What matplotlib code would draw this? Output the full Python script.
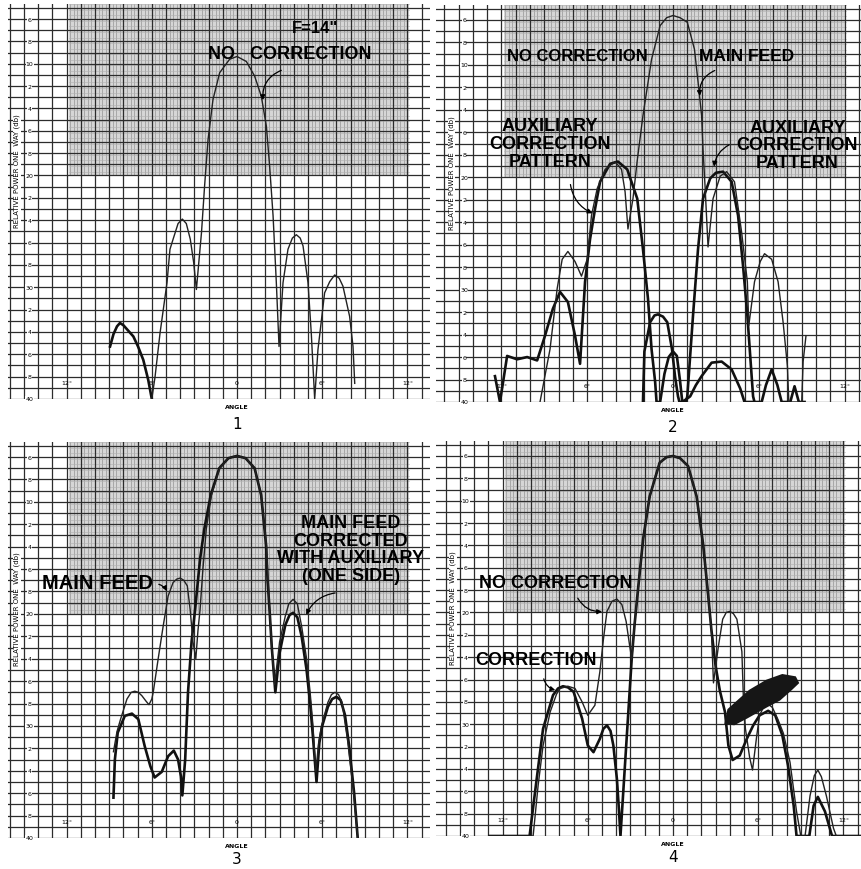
import numpy as np
import matplotlib
matplotlib.use("Agg")
import matplotlib.pyplot as plt

# ---- panel 1 : F = 14", no correction ----
p1_far_ang = [-8.94, -8.7, -8.45, -8.24, -8.0, -7.65, -7.3, -6.97, -6.6, -6.25, -6.0]
p1_far_db = [35.3, 34.2, 33.5, 33.2, 33.4, 33.9, 34.4, 35.3, 36.5, 38.3, 40.0]
p1_ang = [-6.0, -5.77, -5.42, -4.93, -4.72, -4.5, -4.15, -3.85, -3.57, -3.29, -3.05, -2.86,
          -2.5, -2.28, -2.04, -1.69, -1.22, -0.52, 0.0, 0.66, 1.24, 1.71, 2.07, 2.3, 2.54, 2.77, 2.96,
          3.24, 3.59, 3.9, 4.18, 4.45, 4.65, 5.0, 5.23, 5.47,
          5.7, 6.17, 6.53, 6.88, 7.2, 7.46, 7.93, 8.17, 8.29]
p1_db = [40.0, 38.0, 34.1, 29.6, 26.6, 25.7, 24.3, 23.9, 24.3, 25.7, 27.8, 30.2,
         25.1, 20.9, 16.8, 13.2, 10.8, 9.6, 9.35, 9.8, 11.1, 12.9, 15.6, 19.2, 23.6, 29.6, 35.3,
         29.6, 26.6, 25.6, 25.3, 25.6, 26.3, 29.6, 34.1, 40.0,
         35.6, 30.5, 29.5, 28.9, 29.2, 29.9, 32.6, 35.3, 38.6]

# ---- panel 2 : main feed and the two auxiliary correction patterns ----
p2_main_ang = [-9.3, -8.6, -8.1, -7.75, -7.35, -6.85, -6.4, -6.0, -5.7, -5.3, -4.75, -4.05, -3.6,
               -3.35, -3.15, -2.8, -2.5, -2.1, -1.8, -1.5, -0.9, -0.45, 0.0, 0.5, 1.0, 1.5, 1.75,
               2.0, 2.1, 2.25, 2.45, 2.8, 3.3, 3.75, 4.3, 4.8, 5.2, 5.3, 5.7, 6.1, 6.4, 6.9, 7.35,
               7.7, 8.0, 8.1, 9.0, 9.1, 9.3]
p2_main_db = [40.0, 35.3, 29.9, 27.3, 26.6, 27.5, 28.8, 27.3, 23.4, 21.0, 19.3, 18.6, 19.3,
              21.3, 24.6, 21.9, 18.5, 14.5, 12.0, 9.5, 6.5, 5.8, 5.6, 5.8, 6.2, 8.6, 11.5,
              14.5, 17.5, 21.0, 26.2, 21.9, 19.9, 19.5, 20.4, 24.9, 29.3, 33.2, 29.3, 27.5, 26.8, 27.3, 29.3,
              32.9, 36.8, 40.0, 40.0, 36.4, 34.1]
p2_auxl_ang = [-12.45, -12.1, -11.6, -10.9, -10.2, -9.5, -8.95, -8.4, -7.9, -7.35, -6.85, -6.5,
               -6.15, -5.8, -5.45, -5.1, -4.4, -3.85, -3.2, -2.5, -2.1, -1.75, -1.5, -1.25, -1.15,
               -0.9, -0.6, -0.3, 0.0, 0.27, 0.5, 0.65, 1.2, 1.6, 2.0, 2.7, 3.4, 4.1, 4.7, 5.0, 5.6]
p2_auxl_db = [37.7, 40.0, 35.9, 36.2, 36.0, 36.3, 34.1, 31.7, 30.2, 31.1, 34.1, 36.6,
              29.3, 25.5, 22.8, 20.4, 18.8, 18.6, 19.3, 21.9, 26.4, 30.8, 35.3, 38.2, 40.0,
              40.0, 37.5, 36.0, 35.5, 35.9, 38.2, 40.0, 39.5, 38.5, 37.7, 36.5, 36.4, 37.1, 38.8, 40.0, 40.0]
p2_auxr_ang = [-2.1, -2.0, -1.6, -1.3, -1.05, -0.7, -0.4, -0.07, 0.14, 0.35, 0.45, 0.9, 1.0, 1.4,
               1.75, 2.1, 2.6, 3.0, 3.5, 4.1, 4.55, 4.9, 5.2, 5.4, 5.6, 5.7, 6.2, 6.5, 6.9, 7.3,
               7.6, 8.2, 8.5, 8.8, 9.2]
p2_auxr_db = [40.0, 35.5, 32.9, 32.3, 32.2, 32.4, 32.9, 35.3, 37.7, 39.5, 40.0, 40.0, 39.5, 32.3,
              26.4, 21.9, 20.1, 19.6, 19.5, 20.4, 23.4, 27.9, 32.3, 35.9, 39.5, 40.0, 40.0, 38.5, 37.1, 38.5,
              40.0, 40.0, 38.6, 40.0, 40.0]

# ---- panel 3 : main feed / corrected with auxiliary (one side) ----
p3_main_ang = [-8.7, -8.45, -8.2, -7.75, -7.45, -7.2, -6.95, -6.7, -6.4, -6.2, -6.0, -5.9, -5.55,
               -5.2, -4.85, -4.5, -4.25, -4.0, -3.75, -3.5, -3.3, -3.1, -2.9, -2.75, -2.6, -2.4,
               -2.16, -1.8, -1.22, -0.6, 0.0, 0.6, 1.24, 1.7, 2.07, 2.18, 2.3, 2.45, 2.65, 3.0, 3.4,
               3.65, 3.95, 4.25, 4.55, 4.9, 5.15, 5.35, 5.55, 5.75, 5.95, 6.4, 6.65, 6.9, 7.15, 7.4,
               7.8, 8.2, 8.5]
p3_main_db = [32.3, 30.5, 29.4, 27.6, 27.0, 26.9, 27.0, 27.3, 27.8, 28.1, 27.6, 27.0, 24.0,
              21.1, 18.4, 17.2, 16.9, 16.8, 17.0, 17.5, 19.6, 22.5, 24.0, 21.5, 19.6, 16.0,
              12.4, 9.4, 7.0, 6.1, 5.9, 6.1, 7.0, 9.4, 13.9, 16.9, 19.8, 23.0, 26.3, 22.5, 20.2,
              19.1, 18.7, 19.1, 21.1, 24.0, 27.0, 30.0, 34.1, 31.5, 30.0, 27.9, 27.2, 27.0, 27.2, 27.9,
              31.4, 35.9, 40.0]
p3_corr_ang = [-8.7, -8.6, -8.4, -7.9, -7.4, -6.95, -6.5, -6.1, -5.8, -5.3, -4.85, -4.45, -4.15,
               -3.95, -3.85, -3.65, -3.45, -3.2, -2.95, -2.6, -2.3, -1.85, -1.25, -0.6, 0.0, 0.6,
               1.24, 1.7, 2.05, 2.15, 2.3, 2.45, 2.7, 3.0, 3.4, 3.7, 3.95, 4.25, 4.55, 4.9, 5.15,
               5.35, 5.6, 5.8, 6.0, 6.4, 6.7, 7.0, 7.3, 7.6, 7.9, 8.25, 8.5]
p3_corr_db = [36.4, 33.0, 30.6, 29.1, 28.9, 29.4, 31.8, 33.6, 34.6, 34.1, 32.7, 32.2, 33.0,
              34.5, 36.2, 33.0, 27.0, 22.5, 19.6, 15.1, 12.4, 9.4, 7.0, 6.1, 5.9, 6.1,
              7.0, 9.4, 13.9, 16.9, 19.8, 23.0, 27.0, 23.5, 21.0, 20.1, 19.9, 20.3, 22.0, 25.0, 28.0,
              31.0, 35.0, 31.5, 30.0, 28.3, 27.6, 27.4, 27.7, 29.0, 31.8, 36.0, 40.0]

# ---- panel 4 : no correction / correction ----
p4_nocorr_ang = [-12.9, -9.85, -9.5, -9.15, -8.65, -8.2, -7.95, -7.4, -6.9, -6.4, -6.0, -5.5,
                 -5.15, -4.9, -4.65, -4.3, -3.95, -3.6, -3.3, -3.05, -2.9, -2.75, -2.46, -2.1,
                 -1.64, -0.94, -0.45, 0.0, 0.5, 1.06, 1.66, 2.13, 2.48, 2.7, 2.85, 3.2, 3.5, 3.75,
                 4.0, 4.25, 4.5, 4.85, 4.95, 5.1, 5.4, 5.6, 5.9, 6.1, 6.4, 6.7, 7.0, 7.4, 7.77, 8.24,
                 8.7, 9.0, 9.3, 9.65, 9.95, 10.2, 10.45, 10.8, 11.3, 11.5, 13.2]
p4_nocorr_db = [40.0, 40.0, 35.5, 31.9, 28.9, 27.3, 26.8, 26.6, 26.8, 28.0, 29.2, 28.3,
                25.3, 22.4, 19.9, 19.0, 18.8, 19.3, 20.8, 23.0, 24.2, 21.5, 17.9, 13.4,
                9.6, 6.6, 6.1, 6.0, 6.2, 6.9, 9.6, 14.0, 18.5, 21.5, 26.3, 23.0, 20.6, 20.0,
                19.9, 20.1, 20.6, 23.5, 27.4, 30.4, 33.0, 34.1, 31.0, 29.2, 28.4, 28.2, 28.5, 29.6, 30.8, 33.4,
                37.8, 40.0, 40.0, 36.4, 34.6, 34.1, 34.7, 36.4, 39.3, 40.0, 40.0]
p4_corr_ang = [-12.9, -10.1, -9.6, -9.15, -8.45, -8.1, -7.75, -7.4, -7.0, -6.4, -6.0, -5.6, -5.15,
               -4.9, -4.65, -4.4, -4.2, -3.95, -3.8, -3.7, -3.5, -3.2, -2.9, -2.7, -2.46, -2.1,
               -1.64, -0.94, -0.45, 0.0, 0.5, 1.06, 1.66, 2.13, 2.48, 2.7, 3.0, 3.3, 3.66, 3.9, 4.2,
               4.7, 5.2, 5.65, 6.1, 6.7, 7.2, 7.7, 8.1, 8.5, 8.7, 9.6, 9.9, 10.2, 10.7, 11.2, 13.2]
p4_corr_db = [40.0, 40.0, 34.9, 30.4, 27.4, 26.8, 26.6, 26.7, 27.1, 29.5, 31.9, 32.5, 31.3,
              30.4, 30.1, 30.6, 31.9, 34.9, 37.8, 40.0, 36.0, 30.0, 24.0, 21.0, 17.9, 13.4,
              9.6, 6.6, 6.1, 6.0, 6.2, 6.9, 9.6, 14.0, 18.5, 21.5, 24.8, 27.0, 28.9, 31.9, 33.2,
              32.8, 31.3, 30.1, 29.2, 28.8, 29.2, 31.0, 33.7, 37.3, 40.0, 40.0, 37.3, 36.5, 37.8, 40.0, 40.0]
blob_ang = [3.7, 3.9, 4.6, 5.4, 6.6, 7.7, 8.6, 8.8, 8.3, 7.5, 6.6, 5.2, 4.3]
blob_db = [29.9, 28.7, 27.9, 27.0, 26.1, 25.6, 25.8, 26.3, 26.9, 27.8, 28.4, 29.4, 30.0]

y_ticks = list(range(6, 41, 2))
y_labels = [str(v) if v % 10 == 0 else str(v % 10) for v in y_ticks]
x_ticks = [-12, -6, 0, 6, 12]
x_labels = ["12°", "6°", "0", "6°", "12°"]

W, H = 861, 870
fig = plt.figure(figsize=(W / 100, H / 100), dpi=100)
fig.patch.set_facecolor("white")

LBL = ["Liberation Sans Narrow", "Liberation Sans", "DejaVu Sans"]
thin = dict(color="#222222", lw=1.0, zorder=4)
thick = dict(color="#111111", lw=1.9, zorder=4)


def chart_paper(x0, x1, y0, y1, zero_px, px_deg, six_px, px_db, number, num_y=42.2):
    # axes placed by pixel box, data range from the paper scale
    ax = fig.add_axes([x0 / W, 1 - y1 / H, (x1 - x0) / W, (y1 - y0) / H])
    xl = ((x0 - zero_px) / px_deg, (x1 - zero_px) / px_deg)
    top = 6 + (y0 - six_px) / px_db
    ax.set_xlim(xl)
    ax.set_ylim(40, top)
    ax.axis("off")
    # fine ruled band at the top
    ax.fill_between([-11.8, 12.1], top, 20, color="#d6d6d6", lw=0, zorder=0)
    for v in np.arange(-11.75, 12.1, 0.25):
        ax.plot([v, v], [top, 20], color="#8e8e8e", lw=0.45, zorder=0.5)
    for v in np.arange(top, 20, 0.5):
        ax.plot([-11.8, 12.1], [v, v], color="#b0b0b0", lw=0.4, zorder=0.6)
    for v in range(int(np.ceil(xl[0])), int(np.floor(xl[1])) + 1):
        ax.axvline(v, color="#2c2c2c", lw=0.9, zorder=1)
    for v in range(5, 41):
        ax.axhline(v, color="#2c2c2c", lw=0.9, zorder=1)
    for v, s in zip(y_ticks, y_labels):
        ax.text(-14.6, v, s, fontsize=4.5, ha="center", va="center", zorder=3,
                bbox=dict(facecolor="white", edgecolor="none", pad=0.2))
    for v, s in zip(x_ticks, x_labels):
        ax.text(v, 38.5, s, fontsize=4.5, ha="center", va="center", zorder=3)
    ax.text(-15.5, 19.5, "RELATIVE POWER ONE  WAY (db)", rotation=90, fontsize=5,
            ha="center", va="center", zorder=3,
            bbox=dict(facecolor="white", edgecolor="none", pad=0.3))
    ax.text(0, 40.7, "ANGLE", fontsize=4.5, fontweight="bold", ha="center", va="center",
            clip_on=False)
    ax.text(0, num_y, number, fontsize=11, ha="center", va="center", clip_on=False)
    return ax


def label(ax, x, y, s, size=13):
    ax.text(x, y, s, fontsize=size, fontweight="bold", family=LBL, ha="center",
            va="center", linespacing=1.05, zorder=6)


def pointer(ax, start, end, rad=0.4):
    ax.annotate("", xy=end, xytext=start, zorder=6,
                arrowprops=dict(arrowstyle="-|>", lw=0.9, color="k", mutation_scale=7,
                                connectionstyle="arc3,rad=%s" % rad))


# 1
ax1 = chart_paper(8, 430, 5, 400, 237, 14.2, 20, 11.15, "1")
ax1.plot(p1_far_ang, p1_far_db, **thick)
ax1.plot(p1_ang, p1_db, **thin)
label(ax1, 5.5, 6.8, 'F=14"', 12)
label(ax1, 3.7, 9.1, "NO   CORRECTION")
pointer(ax1, (3.3, 10.5), (1.85, 13.5))

# 2
ax2 = chart_paper(436, 861, 6, 403, 673, 14.3, 21, 11.24, "2")
ax2.plot(p2_auxl_ang, p2_auxl_db, **thick)
ax2.plot(p2_auxr_ang, p2_auxr_db, **thick)
ax2.plot(p2_main_ang, p2_main_db, **thin)
label(ax2, -6.7, 9.2, "NO CORRECTION", 12)
label(ax2, 5.15, 9.2, "MAIN FEED", 12.5)
pointer(ax2, (3.1, 10.4), (1.9, 13.0))
label(ax2, -8.6, 17.0, "AUXILIARY\nCORRECTION\nPATTERN")
pointer(ax2, (-7.2, 20.4), (-5.45, 23.3), 0.3)
label(ax2, 8.7, 17.1, "AUXILIARY\nCORRECTION\nPATTERN")
pointer(ax2, (4.1, 17.0), (2.85, 19.3), 0.3)

# 3
ax3 = chart_paper(8, 430, 443, 839, 237, 14.2, 458, 11.2, "3", 41.85)
ax3.plot(p3_corr_ang, p3_corr_db, **thick)
ax3.plot(p3_main_ang, p3_main_db, **thin)
label(ax3, -9.8, 17.2, "MAIN FEED", 14.5)
pointer(ax3, (-5.7, 17.3), (-4.86, 18.2), -0.3)
label(ax3, 8.0, 14.2, "MAIN FEED\nCORRECTED\nWITH AUXILIARY\n(ONE SIDE)")
pointer(ax3, (7.1, 18.1), (4.8, 20.3), 0.3)

# 4
ax4 = chart_paper(436, 861, 442, 837, 673, 14.2, 457, 11.18, "4", 41.85)
ax4.plot(p4_corr_ang, p4_corr_db, **thick)
ax4.plot(p4_nocorr_ang, p4_nocorr_db, **thin)
ax4.fill(blob_ang, blob_db, color="#161616", lw=1.5, zorder=5)
label(ax4, -8.25, 17.3, "NO CORRECTION")
pointer(ax4, (-6.8, 18.5), (-4.8, 19.9), 0.35)
label(ax4, -9.65, 24.2, "CORRECTION")
pointer(ax4, (-9.15, 25.7), (-8.1, 27.0), 0.35)

fig.savefig("out.png", dpi=100, facecolor="white")
